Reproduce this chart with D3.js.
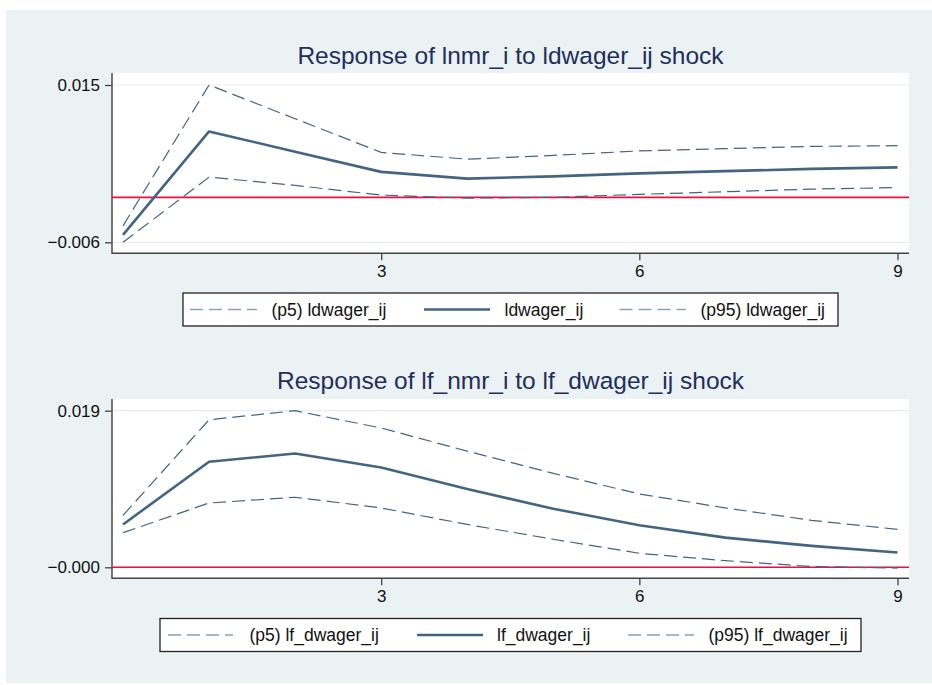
<!DOCTYPE html>
<html>
<head>
<meta charset="utf-8">
<script src="https://cdn.jsdelivr.net/npm/d3@7"></script>
<style>
  html, body { margin: 0; padding: 0; background: #ffffff; }
  svg { display: block; }
  text { font-family: "Liberation Sans", Arial, Helvetica, sans-serif; }
</style>
</head>
<body>
<svg id="chart" width="932" height="685"></svg>
<script>
// ---- data ----
const steps = [0, 1, 2, 3, 4, 5, 6, 7, 8, 9];
const xTickValues = [3, 6, 9];
const xTickLabels = ["3", "6", "9"];

// Panel 1: Response of lnmr_i to ldwager_ij shock
const title1 = "Response of lnmr_i to ldwager_ij shock";
const p5_ldwager  = [-0.0060, 0.0027, 0.0016, 0.0003, -0.0001, 0.0000, 0.0004, 0.00075, 0.0011, 0.0013];
const irf_ldwager = [-0.0050, 0.0088, 0.0061, 0.0034, 0.0025, 0.0028, 0.0032, 0.0035, 0.0038, 0.0040];
const p95_ldwager = [-0.0038, 0.0150, 0.0105, 0.0060, 0.0051, 0.0056, 0.0062, 0.0065, 0.0068, 0.0069];
const yTicks1 = [-0.006, 0.015];
const yTickLabels1 = ["\u22120.006", "0.015"];
const legend1 = ["(p5) ldwager_ij", "ldwager_ij", "(p95) ldwager_ij"];

// Panel 2: Response of lf_nmr_i to lf_dwager_ij shock
const title2 = "Response of lf_nmr_i to lf_dwager_ij shock";
const p5_lfdwager  = [0.0042, 0.0078, 0.0085, 0.0072, 0.0052, 0.0034, 0.0017, 0.0008, 0.0001, -0.0001];
const irf_lfdwager = [0.0052, 0.0128, 0.0138, 0.0121, 0.0095, 0.0071, 0.0051, 0.0036, 0.0026, 0.0018];
const p95_lfdwager = [0.0063, 0.0179, 0.0190, 0.0169, 0.0141, 0.0114, 0.0089, 0.0072, 0.0057, 0.0046];
const yTicks2 = [0, 0.019];
const yTickLabels2 = ["\u22120.000", "0.019"];
const legend2 = ["(p5) lf_dwager_ij", "lf_dwager_ij", "(p95) lf_dwager_ij"];

const zeroLine = 0;

// ---- styling / layout ----
const BG = "#eaf2f3";
const LINE = "#436582";
const RED = "#e8103f";
const TITLE = "#1f2e5c";

const svg = d3.select("#chart");
svg.append("rect").attr("x", 6).attr("y", 10).attr("width", 926).attr("height", 673).attr("fill", BG);

const panels = [
  {
    title: title1, titleY: 64,
    plotTop: 73, plotBottom: 253.3,
    yTicks: yTicks1, yLabels: yTickLabels1, yRange: [242.3, 85],
    series: [p5_ldwager, irf_ldwager, p95_ldwager],
    legend: legend1,
    legendBox: { x: 183, y: 293, w: 655, h: 33 },
    legendItems: [
      { s0: 190, s1: 257, tx: 271.5 },
      { s0: 424, s1: 490, tx: 504.5 },
      { s0: 619.5, s1: 686, tx: 700.5 }
    ],
    xLabelY: 277
  },
  {
    title: title2, titleY: 389,
    plotTop: 399, plotBottom: 578.3,
    yTicks: yTicks2, yLabels: yTickLabels2, yRange: [567.3, 410.7],
    series: [p5_lfdwager, irf_lfdwager, p95_lfdwager],
    legend: legend2,
    legendBox: { x: 160, y: 618.5, w: 701, h: 33 },
    legendItems: [
      { s0: 168, s1: 233, tx: 249.5 },
      { s0: 417, s1: 483, tx: 497 },
      { s0: 628, s1: 694, tx: 708.5 }
    ],
    xLabelY: 602
  }
];

const plotLeft = 112, plotRight = 909;
const x = d3.scaleLinear().domain([0, 9]).range([123, 897.5]);

const styles = [
  { width: 1.2, dash: "13,6" },
  { width: 2.6, dash: null },
  { width: 1.2, dash: "13,6" }
];

panels.forEach(p => {
  const g = svg.append("g");
  const y = d3.scaleLinear().domain(p.yTicks).range(p.yRange);

  // plot region
  g.append("rect").attr("x", plotLeft).attr("y", p.plotTop)
    .attr("width", plotRight - plotLeft).attr("height", p.plotBottom - p.plotTop)
    .attr("fill", "#ffffff");

  // grid lines at ticks
  g.selectAll(".grid").data(p.yTicks).enter().append("line")
    .attr("x1", plotLeft).attr("x2", plotRight)
    .attr("y1", d => y(d)).attr("y2", d => y(d))
    .attr("stroke", "#e6eef1").attr("stroke-width", 1.2);

  // title
  g.append("text").attr("x", (plotLeft + plotRight) / 2).attr("y", p.titleY)
    .attr("text-anchor", "middle").attr("font-size", "24.5px").attr("fill", TITLE)
    .text(p.title);

  // y axis
  const yAxis = d3.axisLeft(y).tickValues(p.yTicks)
    .tickFormat((d, i) => p.yLabels[i]).tickSize(7).tickPadding(5);
  const ya = g.append("g").attr("transform", `translate(${plotLeft},0)`).call(yAxis);
  ya.select(".domain").remove();
  ya.selectAll(".tick line").attr("stroke", "#444").attr("stroke-width", 1.3);
  ya.selectAll(".tick text").attr("font-size", "17px").attr("fill", "#111")
    .attr("font-family", '"Liberation Sans", Arial, sans-serif');

  // x axis
  const xAxis = d3.axisBottom(x).tickValues(xTickValues)
    .tickFormat((d, i) => xTickLabels[i]).tickSize(7).tickPadding(5);
  const xa = g.append("g").attr("transform", `translate(0,${p.plotBottom})`).call(xAxis);
  xa.select(".domain").remove();
  xa.selectAll(".tick line").attr("stroke", "#444").attr("stroke-width", 1.3);
  xa.selectAll(".tick text").attr("font-size", "17px").attr("fill", "#111")
    .attr("font-family", '"Liberation Sans", Arial, sans-serif');

  // axis lines
  g.append("line").attr("x1", plotLeft).attr("x2", plotLeft)
    .attr("y1", p.plotTop).attr("y2", p.plotBottom + 0.7)
    .attr("stroke", "#555").attr("stroke-width", 1.6);
  g.append("line").attr("x1", plotLeft).attr("x2", plotRight)
    .attr("y1", p.plotBottom).attr("y2", p.plotBottom)
    .attr("stroke", "#444").attr("stroke-width", 1.6);

  // zero line
  g.append("line").attr("x1", plotLeft).attr("x2", plotRight)
    .attr("y1", y(zeroLine)).attr("y2", y(zeroLine))
    .attr("stroke", RED).attr("stroke-width", 1.6);

  // series
  const line = d3.line().x((d, i) => x(steps[i])).y(d => y(d));
  p.series.forEach((s, k) => {
    g.append("path").datum(s).attr("d", line)
      .attr("fill", "none").attr("stroke", LINE)
      .attr("stroke-width", styles[k].width)
      .attr("stroke-dasharray", styles[k].dash)
      .attr("stroke-linejoin", "round");
  });

  // legend
  const lb = p.legendBox;
  g.append("rect").attr("x", lb.x).attr("y", lb.y).attr("width", lb.w).attr("height", lb.h)
    .attr("fill", "#ffffff").attr("stroke", "#222").attr("stroke-width", 1.3);
  const ly = lb.y + lb.h / 2;
  p.legendItems.forEach((it, k) => {
    g.append("line").attr("x1", it.s0).attr("x2", it.s1).attr("y1", ly).attr("y2", ly)
      .attr("stroke", k === 1 ? LINE : "#8aa2b6")
      .attr("stroke-width", styles[k].width + (k === 1 ? 0 : 0.3))
      .attr("stroke-dasharray", styles[k].dash);
    g.append("text").attr("x", it.tx).attr("y", ly + 6)
      .attr("font-size", "17.5px").attr("fill", "#111").text(p.legend[k]);
  });
});
</script>
</body>
</html>
